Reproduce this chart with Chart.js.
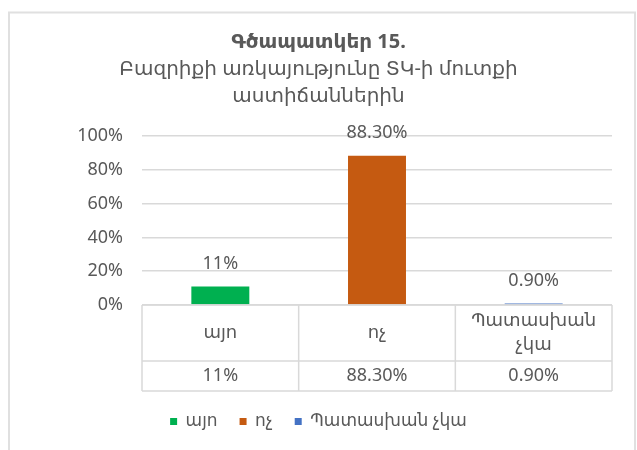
<!DOCTYPE html>
<html>
<head>
<meta charset="utf-8">
<script src="https://cdn.jsdelivr.net/npm/chart.js@4"></script>
<style>
  html, body { margin: 0; padding: 0; background: #fff; }
  #wrap { position: relative; width: 637px; height: 450px; }
</style>
</head>
<body>
<div id="wrap"><canvas id="chart" width="637" height="450"></canvas></div>
<script>
const categories = ['այո', 'ոչ', 'Պատասխան չկա'];
const tableHeaders = [['այո'], ['ոչ'], ['Պատասխան', 'չկա']];
const values = [11, 88.3, 0.9];
const valueLabels = ['11%', '88.30%', '0.90%'];
const barColors = ['#00B050', '#C55A11', '#4472C4'];
const yTicks = [0, 20, 40, 60, 80, 100];

const FONT = "'Noto Sans', 'DejaVu Sans', sans-serif";
const TXT = '#595959';
const LINE = '#d9d9d9';

// chart frame
const framePlugin = {
    id: 'frame',
    beforeDraw(chart) {
        const c = chart.ctx;
        c.save();
        c.strokeStyle = '#e0e0e0';
        c.lineWidth = 2;
        c.strokeRect(9, 12.5, 626, 460);
        c.restore();
    }
};

// labels above bars
const barLabels = {
    id: 'barLabels',
    afterDatasetsDraw(chart) {
        const c = chart.ctx;
        const meta = chart.getDatasetMeta(0);
        c.save();
        c.font = '18px ' + FONT;
        c.fillStyle = TXT;
        c.textAlign = 'center';
        c.textBaseline = 'middle';
        meta.data.forEach((bar, i) => {
            c.fillText(valueLabels[i], bar.x, bar.y - 23);
        });
        c.restore();
    }
};

// data table under the axis
const dataTable = {
    id: 'dataTable',
    afterDraw(chart) {
        const c = chart.ctx;
        const area = chart.chartArea;
        const x = chart.scales.x;
        const top = area.bottom;
        const mid = top + 56;
        const bottom = top + 86;
        const colW = (area.right - area.left) / categories.length;
        c.save();
        c.strokeStyle = LINE;
        c.lineWidth = 1.5;
        c.beginPath();
        c.moveTo(area.left, top); c.lineTo(area.right, top);
        c.moveTo(area.left, mid); c.lineTo(area.right, mid);
        c.moveTo(area.left, bottom); c.lineTo(area.right, bottom);
        for (let i = 0; i <= categories.length; i++) {
            const lx = area.left + colW * i;
            c.moveTo(lx, top); c.lineTo(lx, bottom);
        }
        c.stroke();
        c.font = '18px ' + FONT;
        c.fillStyle = TXT;
        c.textAlign = 'center';
        c.textBaseline = 'middle';
        categories.forEach((cat, i) => {
            const cx = x.getPixelForValue(i);
            const lines = tableHeaders[i];
            const lh = 24;
            const y0 = (top + mid) / 2 - (lines.length - 1) * lh / 2;
            lines.forEach((t, j) => c.fillText(t, cx, y0 + j * lh));
            c.fillText(valueLabels[i], cx, (mid + bottom) / 2);
        });
        c.restore();
    }
};

new Chart(document.getElementById('chart').getContext('2d'), {
    type: 'bar',
    data: {
        labels: categories,
        datasets: [{
            data: values,
            backgroundColor: barColors,
            barPercentage: 0.37,
            categoryPercentage: 1
        }]
    },
    options: {
        responsive: false,
        animation: false,
        layout: { padding: { top: 0, left: 0, right: 0, bottom: 10 } },
        plugins: {
            title: {
                display: true,
                text: 'Գծապատկեր 15.',
                color: TXT,
                font: { family: FONT, size: 20, weight: 'bold', lineHeight: 1.2 },
                padding: { top: 30, bottom: 2 }
            },
            subtitle: {
                display: true,
                text: ['Բազրիքի առկայությունը ՏԿ-ի մուտքի', 'աստիճաններին'],
                color: TXT,
                font: { family: FONT, size: 20, lineHeight: 1.35 },
                padding: { top: 0, bottom: 26 }
            },
            legend: {
                display: true,
                position: 'bottom',
                labels: {
                    color: TXT,
                    font: { family: FONT, size: 17 },
                    boxWidth: 7,
                    boxHeight: 7,
                    padding: 22,
                    generateLabels() {
                        return categories.map((cat, i) => ({
                            text: cat,
                            fillStyle: barColors[i],
                            strokeStyle: barColors[i],
                            lineWidth: 0,
                            fontColor: TXT,
                            index: i
                        }));
                    }
                }
            },
            tooltip: { enabled: false }
        },
        scales: {
            x: {
                grid: { display: false, drawTicks: false },
                border: { display: false },
                ticks: { display: false },
                afterFit(scale) { scale.height = 86; }
            },
            y: {
                min: 0,
                max: 100,
                afterBuildTicks(scale) { scale.ticks = yTicks.map(v => ({ value: v })); },
                grid: { color: LINE, lineWidth: 1.5, drawTicks: false },
                border: { display: false },
                ticks: {
                    color: TXT,
                    font: { family: FONT, size: 18 },
                    padding: 19,
                    callback: v => v + '%'
                },
                afterFit(scale) { scale.width = 142; }
            },
            yRight: {
                position: 'right',
                grid: { display: false, drawTicks: false },
                border: { display: false },
                ticks: { display: false },
                afterFit(scale) { scale.width = 25; }
            }
        }
    },
    plugins: [framePlugin, barLabels, dataTable]
});
</script>
</body>
</html>
